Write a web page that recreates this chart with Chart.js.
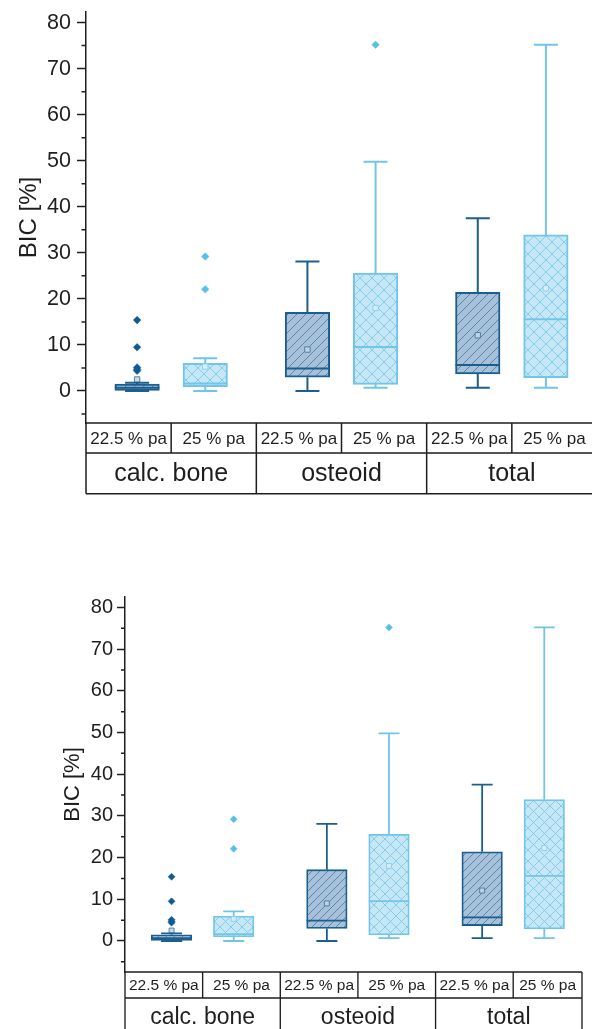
<!DOCTYPE html>
<html>
<head>
<meta charset="utf-8">
<title>BIC box plots</title>
<script src="https://cdn.jsdelivr.net/npm/chart.js@4.4.1/dist/chart.umd.min.js"></script>
<style>
  html, body { margin: 0; padding: 0; background: #fff; }
  body { width: 592px; height: 1029px; overflow: hidden; position: relative; }
  canvas { position: absolute; left: 0; }
  #chartTop { top: -10px; }
  #chartBottom { top: 575px; }
</style>
</head>
<body>
<canvas id="chartTop" width="602" height="506"></canvas>
<canvas id="chartBottom" width="592" height="462"></canvas>
<script>
// categories
const groups = ['calc. bone', 'osteoid', 'total'];
const conditions = ['22.5 % pa', '25 % pa'];
const groupPos = [1, 2, 3];

// 22.5 % pa
const low225 = [0, 0, 0.7];
const q1_225 = [0.15, 3.0, 3.7];
const med225 = [0.7, 4.9, 5.65];
const q3_225 = [1.5, 17.1, 21.4];
const high225 = [1.8, 28.1, 37.5];
const mean225 = [2.5, 9.0, 12.1];
const out225 = [[15.4, 9.5, 5.1, 4.7, 4.4], [], []];

// 25 % pa
const low25 = [0, 0.7, 0.7];
const q1_25 = [0.95, 1.45, 2.9];
const med25 = [1.65, 9.55, 15.6];
const q3_25 = [6.0, 25.6, 33.9];
const high25 = [7.1, 49.8, 75.2];
const mean25 = [5.3, 18.0, 22.3];
const out25 = [[29.2, 22.1], [75.2], []];

// y ticks
const yTickLabels = [0, 10, 20, 30, 40, 50, 60, 70, 80];
const yMinorTicks = [-5, 5, 15, 25, 35, 45, 55, 65, 75];

const ink = '#1e1e1e';
const family = "'Liberation Sans', Arial, sans-serif";
const darkLine = '#1c5e8e', lightLine = '#72c5e8';
const boxOffset = 0.2;

const boxes = [];
groups.forEach((g, i) => {
  boxes.push({x: groupPos[i] - boxOffset, low: low225[i], q1: q1_225[i], med: med225[i], q3: q3_225[i], high: high225[i], dark: true});
  boxes.push({x: groupPos[i] + boxOffset, low: low25[i], q1: q1_25[i], med: med25[i], q3: q3_25[i], high: high25[i], dark: false});
});

const pts = (vals, off) => vals.map((v, i) => ({x: groupPos[i] + off, y: v}));
const outPts = (lists, off) => lists.flatMap((vals, i) => vals.map(v => ({x: groupPos[i] + off, y: v})));

function hatch(ctx, kind, s) {
  const n = Math.round((kind === 'diag' ? 9 : 12) * s);
  const c = document.createElement('canvas');
  c.width = c.height = n;
  const p = c.getContext('2d');
  p.fillStyle = kind === 'diag' ? '#a6c1d9' : '#c6e8f6';
  p.fillRect(0, 0, n, n);
  p.strokeStyle = kind === 'diag' ? '#5a86ad' : '#84cce9';
  p.lineWidth = 1;
  p.beginPath();
  p.moveTo(-1, n + 1); p.lineTo(n + 1, -1);
  p.moveTo(-1, 1); p.lineTo(1, -1);
  p.moveTo(n - 1, n + 1); p.lineTo(n + 1, n - 1);
  if (kind === 'cross') {
    p.moveTo(-1, -1); p.lineTo(n + 1, n + 1);
    p.moveTo(n - 1, -1); p.lineTo(n + 1, 1);
    p.moveTo(-1, n - 1); p.lineTo(1, n + 1);
  }
  p.stroke();
  return ctx.createPattern(c, 'repeat');
}

function line(ctx, x1, y1, x2, y2) {
  ctx.moveTo(x1, y1); ctx.lineTo(x2, y2);
}

const boxExtras = {
  id: 'boxExtras',
  afterDatasetsDraw(chart, args, L) {
    const {ctx} = chart, x = chart.scales.x, y = chart.scales.y;
    ctx.save();
    ctx.lineWidth = L.lw;
    boxes.forEach(b => {
      const cx = x.getPixelForValue(b.x);
      const yl = y.getPixelForValue(b.low), yh = y.getPixelForValue(b.high);
      ctx.strokeStyle = b.dark ? darkLine : lightLine;
      ctx.beginPath();
      line(ctx, cx, y.getPixelForValue(b.q3), cx, yh);
      line(ctx, cx, y.getPixelForValue(b.q1), cx, yl);
      line(ctx, cx - L.capW / 2, yh, cx + L.capW / 2, yh);
      line(ctx, cx - L.capW / 2, yl, cx + L.capW / 2, yl);
      const ym = y.getPixelForValue(b.med);
      line(ctx, cx - L.boxW / 2, ym, cx + L.boxW / 2, ym);
      ctx.stroke();
    });
    ctx.restore();
  },
  afterDraw(chart, args, L) {
    const {ctx, chartArea} = chart, x = chart.scales.x, y = chart.scales.y;
    const {left, right, bottom} = chartArea;
    ctx.save();
    // minor ticks
    ctx.strokeStyle = ink;
    ctx.lineWidth = 1.5;
    ctx.beginPath();
    yMinorTicks.forEach(v => {
      const py = y.getPixelForValue(v);
      line(ctx, left - L.minorLen, py, left, py);
    });
    ctx.stroke();
    // table under the plot
    const r1 = bottom + L.row1, r2 = r1 + L.row2;
    ctx.lineWidth = L.lw * 0.75;
    ctx.beginPath();
    line(ctx, left, bottom, right, bottom);
    line(ctx, left, r1, right, r1);
    line(ctx, left, r2, right, r2);
    ctx.fillStyle = ink;
    ctx.textAlign = 'center';
    ctx.textBaseline = 'middle';
    groupPos.forEach((g, i) => {
      const a = Math.max(x.getPixelForValue(g - 0.5), left);
      const m = x.getPixelForValue(g);
      const b = Math.min(x.getPixelForValue(g + 0.5), right);
      line(ctx, a, bottom, a, r2);
      line(ctx, m, bottom, m, r1);
      line(ctx, b, bottom, b, r2);
      ctx.font = L.row1Font + 'px ' + family;
      ctx.fillText(conditions[0], (a + m) / 2, (bottom + r1) / 2 + 1);
      ctx.fillText(conditions[1], (m + b) / 2, (bottom + r1) / 2 + 1);
      ctx.font = L.row2Font + 'px ' + family;
      ctx.fillText(groups[i], (a + b) / 2, (r1 + r2) / 2 + 1);
    });
    ctx.stroke();
    ctx.restore();
  }
};

function makeChart(id, L) {
  const ctx = document.getElementById(id).getContext('2d');
  const darkFill = hatch(ctx, 'diag', L.s), lightFill = hatch(ctx, 'cross', L.s);
  return new Chart(ctx, {
    type: 'bar',
    data: {
      datasets: [
        {type: 'scatter', data: pts(mean225, -boxOffset), pointStyle: 'rect', pointRadius: L.meanR,
         pointBackgroundColor: 'rgba(196,214,230,0.9)', pointBorderColor: '#52809f', pointBorderWidth: 1, order: 1},
        {type: 'scatter', data: pts(mean25, boxOffset), pointStyle: 'rect', pointRadius: L.meanR,
         pointBackgroundColor: 'rgba(214,238,249,0.9)', pointBorderColor: '#8fd0ec', pointBorderWidth: 1, order: 1},
        {type: 'scatter', data: outPts(out225, -boxOffset), pointStyle: 'rectRot', pointRadius: L.outR,
         pointBackgroundColor: '#0f5b94', pointBorderColor: '#0f5b94', pointBorderWidth: 0.5, order: 1},
        {type: 'scatter', data: outPts(out25, boxOffset), pointStyle: 'rectRot', pointRadius: L.outR,
         pointBackgroundColor: '#56c1e8', pointBorderColor: '#56c1e8', pointBorderWidth: 0.5, order: 1},
        {data: boxes.map(b => ({x: b.x, y: [b.q1, b.q3]})),
         backgroundColor: boxes.map(b => b.dark ? darkFill : lightFill),
         borderColor: boxes.map(b => b.dark ? darkLine : lightLine),
         borderWidth: L.lw, borderSkipped: false, barThickness: L.boxW, order: 2}
      ]
    },
    options: {
      responsive: false,
      animation: false,
      layout: {padding: {top: L.padTop, bottom: L.padBottom, left: 0, right: L.padRight}},
      plugins: {legend: {display: false}, tooltip: {enabled: false}, boxExtras: L},
      scales: {
        x: {type: 'linear', display: false, min: 0.5, max: L.xMax, offset: false, bounds: 'data'},
        y: {
          min: L.yMin, max: L.yMax, bounds: 'data', beginAtZero: false,
          afterBuildTicks: s => { s.ticks = yTickLabels.map(v => ({value: v})); },
          afterFit: s => { s.width = L.axisW; },
          border: {display: true, color: ink, width: 1.5},
          grid: {drawOnChartArea: false, tickLength: L.tickLen, tickWidth: 1.5, tickColor: ink},
          ticks: {autoSkip: false, padding: L.tickPad, color: ink,
                  font: {family: family, size: L.tickFont}},
          title: {display: true, text: 'BIC [%]', color: ink, font: {family: family, size: L.titleFont},
                  padding: {top: L.titlePad, bottom: 0}}
        }
      }
    },
    plugins: [boxExtras]
  });
}

makeChart('chartTop', {s: 1, axisW: 86, padTop: 22, padBottom: 73, padRight: 1, yMin: -6.95, yMax: 82.3, xMax: 3.5,
  tickFont: 21.5, titleFont: 24, titlePad: 14.6, tickLen: 9, tickPad: 6, minorLen: 4.5, row1: 30, row2: 40.7,
  row1Font: 17, row2Font: 25, boxW: 44.5, capW: 24, lw: 2, outR: 3.8, meanR: 3.8});

makeChart('chartBottom', {s: 0.91, axisW: 125, padTop: 22, padBottom: 65, padRight: 10, yMin: -7.44, yMax: 82.5, xMax: 3.443,
  tickFont: 20, titleFont: 22, titlePad: 60, tickLen: 8, tickPad: 4, minorLen: 4, row1: 26, row2: 37,
  row1Font: 15.5, row2Font: 23, boxW: 40.5, capW: 21, lw: 1.8, outR: 3.5, meanR: 3.5});
</script>
</body>
</html>
